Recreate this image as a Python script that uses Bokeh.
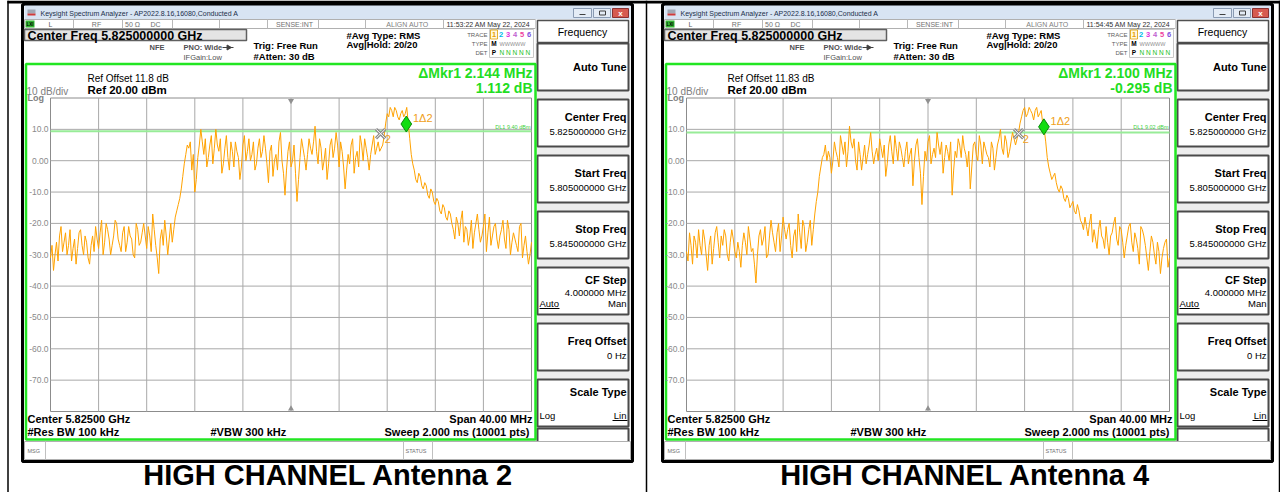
import numpy as np
from bokeh.plotting import figure
from bokeh.models import Range1d
from bokeh.core.properties import value
from bokeh.embed import file_html
from bokeh.resources import INLINE

# ---------------- data ----------------
span_start_mhz = -20.0
span_stop_mhz = 20.0
ref_level_dbm = 20.0
bottom_level_dbm = -80.0
y_tick_values = [10, 0, -10, -20, -30, -40, -50, -60, -70]
y_tick_labels = ["10.0", "0.00", "-10.0", "-20.0", "-30.0", "-40.0", "-50.0", "-60.0", "-70.0"]
x_grid_mhz = [-16, -12, -8, -4, 0, 4, 8, 12, 16]

# trace readings (dBm) on the 0.25 MHz points across the 40 MHz span
trace_ant2 = [-31, -35, -26, -24, -29, -23, -27, -32, -25, -28, -22, -30, -26, -33, -24, -21, -28,
              -19, -26, -22, -30, -24, -20, -27, -23, -29, -21, -25, -31, -22, -26, -20, -28,
              -24, -17, -27, -36, -22, -19, -30, -20, -22, -16, -12, -5, 2, 4,
              -3, -10, 1, 10, 2, -2, 5, -1, 10, 3,
              -4, 4, 1, 6, -2, 3, -6, 5, 0, 7,
              2, -3, 4, 1, 8, -1, 3, -5, 2, 6,
              0, -11, 3, -2, 5, -13, 1, 4, -3, 7,
              2, 11, -1, 4, 0, -6, 5, 1, 9, -2,
              3, -9, 2, 5, -4, 3, 8, 0, 4, -3,
              5, 2, 6, 4,
              8, 15, 17, 14, 16, 13, 16, 15, 12,
              2, -3, -7, -5, -9, -8, -12, -10, -14, -13, -17, -15, -19, -17, -22,
              -18, -24, -16, -21, -27, -19, -23, -17, -26, -21, -29, -18, -24, -20, -28, -22,
              -25, -19, -30, -23, -27, -21, -31, -24, -33, -26]
# readings (dBm) halfway between the points above
trace_ant2_mid = [-27, -30, -32, -21, -26, -30, -22, -28, -33, -23, -27, -24, -31, -27, -29, -25,
                  -23,
                  -30, -20, -25, -27, -19, -25, -29, -21, -26, -24, -30, -20, -27, -23, -24,
                  -21,
                  -29, -22, -31, -25, -27, -24, -25, -26, -18, -14, -9, -1, 5,
                  6,
                  2, -6, 5, 6, 7, 1, 8, 4, 5, 7,
                  -1, 8, -3, 3, 6, 1, -2, 8, 3, 0,
                  6, -1, 7, 3, 4, -7, 5, 0, -3, 9,
                  -4, -3, 6, 0, -4, -6, 7, 1, 2, 4,
                  6, 3, 7, -3, 4, -1, 7, 4, 5, 6,
                  -2, -3, -1, 7, 1, -2, 5, 7, 1, 2,
                  8, 4, 3,
                  5,
                  12, 14, 16, 17, 14, 15, 14, 17,
                  7,
                  -1, -6, -4, -8, -7, -11, -9, -13, -12, -16, -14, -18, -16, -20,
                  -25,
                  -20, -19, -26, -22, -24, -28, -20, -22, -24, -17, -23, -27, -21, -25, -24,
                  -19, -28, -22, -26, -25, -29, -20, -27, -29, -30]

trace_ant4 = [-29, -23, -33, -26, -22, -30, -25, -35, -24, -28, -21, -31, -27, -24, -32, -22, -29,
              -26, -34, -23, -30, -25, -28, -39, -24, -27, -21, -30, -19, -26, -23, -29, -18,
              -25, -20, -31, -22, -17, -28, -21, -26, -19, -22, -13, -5, 1, 5,
              3, -4, 6, 1, 8, 2, -2, 11, 4, 0,
              6, -3, 5, 2, 9, -1, 4, 7, 1, -5,
              5, 3, 8, 0, 4, -2, 6, 2, -8, 5,
              1, -14, 3, 6, -1, 4, 9, 2, -4, 5,
              0, -11, 3, 7, 1, 4, -2, -9, 5, 2,
              8, -1, 4, 1, 6, -3, 5, 10, 2, 6,
              3, 9, 5,
              9, 14, 17, 15, 16, 13, 17, 15, 12,
              6, -2, -6, -4, -9, -8, -12, -11, -15, -13, -17, -16,
              -20, -18, -24, -17, -22, -28, -19, -25, -21, -30, -23, -18, -27, -22, -31, -24,
              -20, -29, -25, -33, -22, -27, -35, -24, -30, -26, -36, -28, -25, -31]
trace_ant4_mid = [-32, -27, -24, -31, -27, -22, -30, -27, -33, -23, -26, -24, -22, -30, -26, -25,
                  -31,
                  -29, -27, -26, -21, -29, -33, -30, -22, -25, -31, -24, -23, -29, -20, -24,
                  -22,
                  -22, -27, -24, -29, -23, -19, -29, -22, -27, -17, -10, -2, 2,
                  0,
                  1, 0, 3, -2, 5, 6, 3, 6, 7, -3,
                  2, 1, -1, 5, 3, 2, 0, 4, 5, -1,
                  8, -1, 4, 6, 1, 3, -1, 4, 0, 7,
                  -4, -5, 0, 8, 2, 1, 5, 6, 1, 3,
                  6, -3, 1, 5, 8, 2, 3, -2, 6, 0,
                  5, 6, 2, -2, 4, 1, 7, 4, 8, 1,
                  6, 7,
                  7,
                  12, 16, 14, 17, 15, 16, 14, 16,
                  10,
                  1, -4, -5, -7, -10, -9, -13, -12, -14, -16, -14,
                  -19,
                  -22, -21, -20, -26, -25, -22, -24, -28, -26, -24, -20, -25, -21, -26, -27,
                  -21, -26, -23, -28, -21, -24, -31, -29, -26, -33, -29, -31, -26, -34]

# markers: (offset MHz, dBm)
mkr2_ant2 = (7.45, 8.6)
mkr1_ant2 = (9.59, 11.7)
mkr2_ant4 = (7.50, 8.6)
mkr1_ant4 = (9.60, 10.8)
display_line_ant2 = 9.40
display_line_ant4 = 9.02


def merge(points, mids):
    out = []
    for i, v in enumerate(points):
        out.append(v)
        if i < len(points) - 1 and i < len(mids):
            out.append(mids[i])
    return out


panels = [
    dict(dx=0, gx0=50, gx1=531, rng="fL", trace=merge(trace_ant2, trace_ant2_mid),
         m2=mkr2_ant2, m1=mkr1_ant2,
         dl=display_line_ant2, dl_text="DL1 9.40 dBm", ref_offset="Ref Offset 11.8 dB",
         mkr_f="\u0394Mkr1 2.144 MHz", mkr_db="1.112 dB", time="11:53:22 AM May 22, 2024",
         caption="HIGH CHANNEL Antenna 2", cap_x=328),
    dict(dx=640, gx0=686, gx1=1169, rng="fR", trace=merge(trace_ant4, trace_ant4_mid),
         m2=mkr2_ant4, m1=mkr1_ant4,
         dl=display_line_ant4, dl_text="DL1 9.02 dBm", ref_offset="Ref Offset 11.83 dB",
         mkr_f="\u0394Mkr1 2.100 MHz", mkr_db="-0.295 dB", time="11:54:45 AM May 22, 2024",
         caption="HIGH CHANNEL Antenna 4", cap_x=965),
]

title_text = "Keysight Spectrum Analyzer - AP2022.8.16,16080,Conducted A"
soft_keys = [
    ("Auto Tune", None, None),
    ("Center Freq", "5.825000000 GHz", None),
    ("Start Freq", "5.805000000 GHz", None),
    ("Stop Freq", "5.845000000 GHz", None),
    ("CF Step", "4.000000 MHz", ("Auto", "Man")),
    ("Freq Offset", "0 Hz", None),
    ("Scale Type", None, ("Log", "Lin")),
]

# ---------------- figure: pixel frame + analyzer scales ----------------
W, H = 1280, 492
X0, X1, Y0, Y1 = 0, W, 0, H
GY0, GY1 = 97.5, 411.0
FONT = "Liberation Sans"

p = figure(width=W, height=H, x_range=Range1d(X0, X1), y_range=Range1d(Y1, Y0),
           x_axis_type=None, y_axis_type=None, output_backend="svg",
           toolbar_location=None, min_border=0)
p.grid.visible = False
p.outline_line_color = None
p.background_fill_color = "#ffffff"

ky = (ref_level_dbm - bottom_level_dbm) / (GY1 - GY0)
p.extra_y_ranges = {"dB": Range1d(bottom_level_dbm - (Y1 - GY1) * ky,
                                  ref_level_dbm + (GY0 - Y0) * ky)}
extra_x = {}
for P in panels:
    kx = (span_stop_mhz - span_start_mhz) / (P["gx1"] - P["gx0"])
    extra_x[P["rng"]] = Range1d(span_start_mhz - (P["gx0"] - X0) * kx,
                                span_stop_mhz + (X1 - P["gx1"]) * kx)
p.extra_x_ranges = extra_x


def R(x0, x1, y0, y1, fill, line=None, lw=1.0):
    p.quad(left=[x0], right=[x1], top=[y0], bottom=[y1], fill_color=fill,
           line_color=line, line_width=lw)


def L(x0, y0, x1, y1, color, lw=1.0):
    p.segment(x0=[x0], y0=[y0], x1=[x1], y1=[y1], line_color=color, line_width=lw)


def T(x, y, s, size, color="#000000", bold=False, align="left", font=FONT, **kw):
    p.text(x=[x], y=[y], text=[s], text_font_size=f"{size}px", text_color=color,
           text_font_style="bold" if bold else "normal", text_align=align,
           text_baseline="middle", text_font=value(font), **kw)


# table borders
L(7, 1.5, 1280, 1.5, "#000000", 3)
L(7.5, 0, 7.5, 493, "#000000", 1.5)
L(646, 0, 646, 493, "#000000", 1.5)
L(1279, 0, 1279, 493, "#000000", 1.5)

trace_colors = ["#e8a000", "#00b8e8", "#e030e0", "#c060d0", "#f040a0", "#8050e0"]

for P in panels:
    d = P["dx"]
    # window frame
    R(22 + d, 632 + d, 4, 461, "#ffffff", "#000000", 3)
    # title bar
    R(24 + d, 630 + d, 5, 19, "#d8e4f3", None)
    R(27 + d, 35 + d, 9, 13, "#a0a8b4", None)
    R(27 + d, 35 + d, 13, 15, "#d03a3a", None)
    T(40 + d, 12.5, title_text, 7, "#1b2f4a")
    R(573 + d, 591 + d, 8, 17, "#e4ecf6", "#8a9bb3", 1)
    R(593 + d, 610 + d, 8, 17, "#e4ecf6", "#8a9bb3", 1)
    R(612 + d, 628 + d, 8, 17, "#d65a50", "#8a3030", 1)
    L(579 + d, 14, 585 + d, 14, "#404040", 1.2)
    R(599 + d, 605 + d, 10.5, 14.5, None, "#404040", 1)
    T(620 + d, 12.5, "x", 8, "#ffffff", bold=True, align="center")
    # status row
    R(24 + d, 535 + d, 19, 28, "#ffffff", "#b0b0b0", 1)
    R(25 + d, 34 + d, 20, 27, "#33b533", None)
    T(29.5 + d, 23.5, "LXI", 4.5, "#000000", bold=True, align="center")
    for cx in [73, 122, 172, 219, 267, 318, 365, 443]:
        L(cx + d, 19, cx + d, 28, "#b8b8b8", 1)
    T(50 + d, 24, "L", 7, "#606060", align="center")
    T(96 + d, 24, "RF", 7, "#707070", align="center")
    T(132 + d, 24, "50 \u03a9", 7, "#707070", align="center")
    T(155 + d, 24, "DC", 7, "#707070", align="center")
    T(294 + d, 24, "SENSE:INT", 7, "#707070", align="center")
    T(407 + d, 24, "ALIGN AUTO", 7, "#808080", align="center")
    T(446 + d, 24, P["time"], 7, "#303030")
    # header block
    R(24 + d, 246 + d, 29, 40, "#e4e4e4", "#606060", 1.5)
    T(27 + d, 35, "Center Freq 5.825000000 GHz", 12.5, bold=True)
    T(149 + d, 47, "NFE", 7.5, "#505050", bold=True)
    T(183 + d, 47, "PNO: Wide", 7.5, "#505050", bold=True)
    L(222 + d, 47, 233 + d, 47, "#404040", 1)
    p.scatter(x=[228 + d], y=[47], marker="triangle", angle=-np.pi / 2, size=5,
              fill_color="#404040", line_color="#404040")
    T(183 + d, 57, "IFGain:Low", 7.5, "#505050")
    T(253 + d, 44.5, "Trig: Free Run", 9.5, bold=True)
    T(253 + d, 55.5, "#Atten: 30 dB", 9.5, bold=True)
    T(346 + d, 34.5, "#Avg Type: RMS", 9.5, bold=True)
    T(346 + d, 44, "Avg|Hold: 20/20", 9.5, bold=True)
    T(487 + d, 34, "TRACE", 6, "#606060", align="right")
    T(487 + d, 43, "TYPE", 6, "#606060", align="right")
    T(487 + d, 52, "DET", 6, "#606060", align="right")
    R(489 + d, 533 + d, 29, 57, None, "#c8c8c8", 1)
    R(490 + d, 497 + d, 29.5, 38.5, "#fff8e0", "#e0a000", 0.8)
    for i, c in enumerate(trace_colors):
        T(493.5 + d + i * 7, 34, str(i + 1), 7.5, c, bold=True, align="center")
    T(493.5 + d, 43, "M", 6.5, "#000000", bold=True, align="center")
    T(499 + d, 43, "WWWWW", 5.5, "#909090")
    T(493.5 + d, 52, "P", 6.5, "#000000", bold=True, align="center")
    T(499 + d, 52, "N N N N N", 6.5, "#20c020")

    # soft keys
    R(535 + d, 630 + d, 19, 440, "#ededed", None)
    R(537 + d, 628 + d, 20, 42, "#ffffff", "#505050", 1.5)
    T(582 + d, 31.5, "Frequency", 10.5, "#000000", align="center")
    key_y = [(43, 90), (99, 146), (155, 202), (211, 258), (267, 314), (323, 370), (379, 426)]
    for (ya, yb), (lab, sub, ends) in zip(key_y, soft_keys):
        R(537 + d, 628 + d, ya, yb, "#ffffff", "#4a4a4a", 2)
        if sub is None and ends is None:
            T(626 + d, (ya + yb) / 2 - 0.5, lab, 11, bold=True, align="right")
        elif ends is None:
            T(626 + d, ya + 17.5, lab, 11, bold=True, align="right")
            T(626 + d, ya + 32, sub, 9.5, align="right")
        elif sub is not None:
            T(626 + d, ya + 12, lab, 11, bold=True, align="right")
            T(626 + d, ya + 24.5, sub, 9.5, align="right")
            T(539 + d, ya + 36, ends[0], 9.5)
            L(539 + d, ya + 41, 559 + d, ya + 41, "#000000", 1)
            T(626 + d, ya + 36, ends[1], 9.5, align="right")
        else:
            T(626 + d, ya + 12.5, lab, 11, bold=True, align="right")
            T(539 + d, ya + 36, ends[0], 9.5)
            T(626 + d, ya + 36, ends[1], 9.5, align="right")
            L(612 + d, ya + 41, 627 + d, ya + 41, "#000000", 1)
    R(537 + d, 628 + d, 428, 442, "#ffffff", "#4a4a4a", 2)

    # graph window
    R(25.5 + d, 535 + d, 63.5, 439, "#ffffff", "#22e622", 2.5)
    T(87 + d, 78, P["ref_offset"], 10)
    T(87 + d, 89.5, "Ref 20.00 dBm", 11.5, bold=True)
    T(26 + d, 90.5, "10 dB/div", 10, "#808080")
    T(27 + d, 97.5, "Log", 9, "#808080", bold=True)
    T(532 + d, 72.5, P["mkr_f"], 14, "#22dd22", bold=True, align="right")
    T(532 + d, 87, P["mkr_db"], 14, "#22dd22", bold=True, align="right")

    rn = P["rng"]
    # graticule
    R(P["gx0"], P["gx1"], GY0, GY1, None, "#8c8c8c", 1)
    p.segment(x0=x_grid_mhz, x1=x_grid_mhz, y0=[bottom_level_dbm] * len(x_grid_mhz),
              y1=[ref_level_dbm] * len(x_grid_mhz), x_range_name=rn, y_range_name="dB",
              line_color="#a8a8a8", line_width=1)
    p.segment(x0=[span_start_mhz] * len(y_tick_values), x1=[span_stop_mhz] * len(y_tick_values),
              y0=y_tick_values, y1=y_tick_values, x_range_name=rn, y_range_name="dB",
              line_color="#a8a8a8", line_width=1)
    p.text(x=[P["gx0"] - 2] * len(y_tick_values), y=y_tick_values, text=y_tick_labels,
           y_range_name="dB", text_font_size="8.5px", text_color="#8a8a8a",
           text_align="right", text_baseline="middle", text_font=value(FONT))
    p.scatter(x=[0], y=[ref_level_dbm - 0.9], marker="inverted_triangle", size=6,
              x_range_name=rn, y_range_name="dB", fill_color="#909090", line_color=None)
    p.scatter(x=[0], y=[bottom_level_dbm + 0.9], marker="triangle", size=6,
              x_range_name=rn, y_range_name="dB", fill_color="#909090", line_color=None)
    # display line
    p.segment(x0=[span_start_mhz], x1=[span_stop_mhz], y0=[P["dl"]], y1=[P["dl"]],
              x_range_name=rn, y_range_name="dB", line_color="#98ec98", line_width=2)
    T(P["gx1"] - 1, GY0 + 29, P["dl_text"], 5.5, "#40d040", align="right")
    # trace
    vals = P["trace"]
    freq = np.linspace(span_start_mhz, span_stop_mhz, len(vals))
    p.line(freq, vals, x_range_name=rn, y_range_name="dB", line_color="#ffa200", line_width=1)
    # markers
    f2, d2 = P["m2"]
    f1, d1 = P["m1"]
    p.scatter(x=[f2], y=[d2], marker="x", size=13, line_color="#8a8a8a", line_width=3,
              x_range_name=rn, y_range_name="dB")
    p.scatter(x=[f2], y=[d2], marker="x", size=12, line_color="#ffffff", line_width=1,
              x_range_name=rn, y_range_name="dB")
    p.text(x=[f2 + 0.35], y=[d2 - 1.6], text=["2"], x_range_name=rn, y_range_name="dB",
           text_font_size="11px", text_color="#f0a020", text_baseline="middle",
           text_font=value(FONT))
    p.scatter(x=[f1], y=[d1], marker="diamond", size=16, fill_color="#11dd11",
              line_color="#0a8a0a", line_width=1, x_range_name=rn, y_range_name="dB")
    p.text(x=[f1 + 0.55], y=[d1 + 1.8], text=["1\u03942"], x_range_name=rn, y_range_name="dB",
           text_font_size="11px", text_color="#f0a020", text_baseline="middle",
           text_font=value(FONT))

    # bottom annotation lines
    T(27 + d, 418.5, "Center 5.82500 GHz", 11, bold=True)
    T(532 + d, 418.5, "Span 40.00 MHz", 11, bold=True, align="right")
    T(27 + d, 431.5, "#Res BW 100 kHz", 11, bold=True)
    T(210 + d, 431.5, "#VBW 300 kHz", 11, bold=True)
    T(532 + d, 431.5, "Sweep  2.000 ms (10001 pts)", 11, bold=True, align="right")
    # message row
    R(24 + d, 630 + d, 441, 459, "#ffffff", "#b0b0b0", 1)
    L(45 + d, 441, 45 + d, 459, "#c0c0c0", 1)
    L(403 + d, 441, 403 + d, 459, "#c0c0c0", 1)
    L(432 + d, 441, 432 + d, 459, "#c0c0c0", 1)
    T(27 + d, 450, "MSG", 5.5, "#707070")
    T(405 + d, 450, "STATUS", 5.5, "#707070")

    # caption
    T(P["cap_x"], 474, P["caption"], 29, "#000000", bold=True, align="center")

open("out.html", "w").write(file_html(p, INLINE))
